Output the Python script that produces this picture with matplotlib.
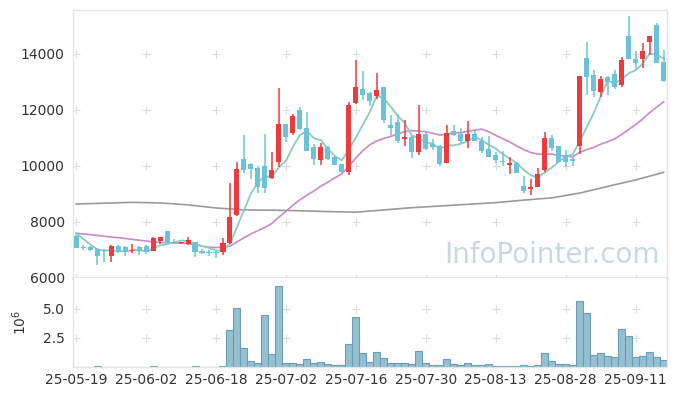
import numpy as np
import matplotlib.pyplot as plt

# daily candles, 25-05-19 .. 25-09-17 (trading days)
opens = [7500, 7110, 7120, 7050, 7000, 6790, 7140, 7090, 6950, 7100,
         7130, 6960, 7320, 7680, 7300, 7240, 7210, 7270, 6980, 6930,
         6930, 6910, 7240, 8250, 10250, 10070, 9940, 10000, 9580, 10150,
         11500, 11170, 12000, 11350, 10690, 10210, 10680, 10330, 10070, 9800,
         12240, 12750, 12620, 12480, 12830, 11460, 11580, 10950, 11050, 10510,
         11140, 10770, 10710, 10120, 11230, 11140, 10880, 11140, 10880, 10600,
         10390, 10190, 10040, 10120, 9290, 9180, 9260, 9860, 10990, 10710,
         10390, 10240, 10720, 13870, 13230, 12630, 13190, 13290, 12890, 14640,
         13820, 13810, 14440, 15030, 13700]
highs = [7520, 7160, 7150, 7080, 7040, 7190, 7170, 7140, 7210, 7130,
         7160, 7450, 7480, 7690, 7380, 7300, 7470, 7300, 7040, 7010,
         6960, 7420, 9380, 10150, 11100, 10100, 10000, 11140, 10480, 12770,
         11500, 11860, 12100, 11940, 10800, 10830, 10700, 10350, 10080, 12300,
         13790, 13390, 12640, 13310, 12830, 11820, 11840, 11640, 11060, 12180,
         11230, 10950, 10750, 11460, 11460, 11370, 11600, 11250, 11020, 11070,
         10500, 10540, 10320, 10130, 9640, 9540, 9920, 11220, 11100, 10710,
         10570, 10330, 13210, 14430, 13430, 13200, 13200, 13420, 13880, 15360,
         14100, 14380, 14650, 15120, 14140]
lows = [7060, 6990, 6960, 6460, 6580, 6580, 6880, 6800, 6900, 6830,
        6860, 6950, 7210, 7240, 7200, 7220, 7180, 6760, 6860, 6790,
        6700, 6830, 7200, 8200, 9750, 9530, 9050, 9050, 9550, 9950,
        10870, 11100, 11300, 10550, 10030, 10030, 10200, 10040, 9760, 9680,
        12200, 12370, 12140, 12380, 11520, 11100, 10820, 10700, 10280, 10390,
        10560, 10570, 9990, 10100, 11080, 10830, 10640, 10880, 10450, 10330,
        10090, 9990, 9720, 9760, 9020, 8980, 9260, 9790, 10540, 10150,
        9960, 10000, 10420, 12540, 12470, 12470, 12550, 12730, 12800, 13800,
        13450, 13490, 13960, 13670, 13000]
closes = [7080, 7070, 7000, 6790, 6950, 7140, 6920, 6940, 7000, 6980,
          6910, 7440, 7470, 7250, 7240, 7290, 7360, 6940, 6890, 6880,
          6880, 7240, 8190, 9890, 9870, 9890, 9260, 9230, 9860, 11500,
          11050, 11790, 11320, 10550, 10260, 10680, 10230, 10040, 9800, 12180,
          12800, 12540, 12320, 12710, 11640, 11350, 10900, 11050, 10510, 11140,
          10600, 10690, 10070, 11190, 11110, 10890, 11140, 10890, 10540, 10330,
          10210, 10130, 10100, 9760, 9120, 9250, 9710, 10990, 10630, 10150,
          10150, 10180, 13210, 13190, 12680, 13110, 12990, 12830, 13790, 13810,
          13670, 14110, 14650, 13670, 13040]
# volume in millions
volume = [0.02, 0.01, 0.01, 0.08, 0.01, 0.01, 0.01, 0.01, 0.01, 0.01,
          0.01, 0.08, 0.01, 0.01, 0.01, 0.01, 0.01, 0.08, 0.01, 0.01,
          0.01, 0.10, 3.19, 5.10, 1.61, 0.52, 0.32, 4.45, 1.09, 6.98,
          0.32, 0.32, 0.23, 0.66, 0.32, 0.43, 0.23, 0.17, 0.17, 1.98,
          4.28, 1.18, 0.43, 1.26, 0.75, 0.32, 0.32, 0.32, 0.23, 1.35,
          0.32, 0.14, 0.14, 0.66, 0.23, 0.14, 0.32, 0.14, 0.14, 0.23,
          0.06, 0.06, 0.06, 0.06, 0.14, 0.06, 0.14, 1.18, 0.49, 0.23,
          0.23, 0.14, 5.66, 4.62, 1.01, 1.18, 0.92, 0.83, 3.25, 2.70,
          0.83, 0.92, 1.26, 0.83, 0.60]

ma5 = [7590, 7400, 7200, 7020, 6978, 6990, 6960, 6948, 6990, 6996,
       6950, 7054, 7160, 7210, 7262, 7338, 7322, 7216, 7144, 7072,
       6990, 6966, 7216, 7816, 8414, 9016, 9420, 9628, 9622, 9948,
       10180, 10686, 11104, 11242, 10994, 10920, 10608, 10352, 10202, 10586,
       11010, 11472, 11928, 12510, 12402, 12112, 11784, 11530, 11090, 10990,
       10840, 10798, 10602, 10738, 10732, 10790, 10882, 11044, 10914, 10758,
       10622, 10420, 10262, 10106, 9864, 9672, 9588, 9766, 9940, 10146,
       10326, 10420, 10864, 11376, 11882, 12474, 13036, 12960, 13080, 13306,
       13418, 13642, 14008, 13982, 13828]
ma20 = [7600, 7570, 7550, 7520, 7490, 7460, 7440, 7410, 7380, 7350,
        7320, 7290, 7270, 7260, 7250, 7240, 7230, 7190, 7140, 7100,
        7090, 7100, 7135, 7290, 7436, 7574, 7691, 7805, 7948, 8174,
        8381, 8599, 8791, 8956, 9107, 9277, 9420, 9575, 9721, 9986,
        10282, 10547, 10753, 10894, 10983, 11056, 11138, 11229, 11261, 11243,
        11221, 11166, 11103, 11135, 11178, 11188, 11234, 11276, 11313, 11221,
        11091, 10971, 10860, 10712, 10586, 10481, 10422, 10419, 10425, 10375,
        10353, 10327, 10484, 10584, 10663, 10774, 10866, 10963, 11126, 11300,
        11473, 11672, 11899, 12095, 12291]
# long average, read every 4th session
ma_long_idx = [0, 4, 8, 12, 16, 20, 24, 28, 32, 36, 40, 44, 48, 52, 56, 60, 64, 68, 72, 76, 80, 84]
ma_long = [8640, 8670, 8700, 8680, 8610, 8500, 8430, 8420, 8400, 8370, 8350,
           8430, 8510, 8570, 8630, 8690, 8780, 8860, 9030, 9270, 9500, 9770]

tick_pos = [0, 10, 20, 30, 40, 50, 60, 70, 80]
tick_labels = ['25-05-19', '25-06-02', '25-06-18', '25-07-02', '25-07-16',
               '25-07-30', '25-08-13', '25-08-28', '25-09-11']

UP = '#ec3b3f'
DOWN = '#6cc3d8'
FRAME = '#e4e4e4'
TXT = '#333333'

o = np.array(opens)
c = np.array(closes)
x = np.arange(len(o))
up = c >= o
colors = np.where(up, UP, DOWN)

fig = plt.figure(figsize=(6.77, 3.96), dpi=100)
ax = fig.add_axes([0.1078, 0.298, 0.877, 0.677])
axv = fig.add_axes([0.1078, 0.0732, 0.877, 0.2248], sharex=ax)

# grid crosses
for yy in [6000, 8000, 10000, 12000, 14000]:
    ax.scatter(tick_pos, [yy] * len(tick_pos), marker='+', s=30, color='#dcdcdc', lw=0.8, zorder=0)
for yy in [2.5, 5.0]:
    axv.scatter(tick_pos, [yy] * len(tick_pos), marker='+', s=30, color='#dcdcdc', lw=0.8, zorder=0)

# moving averages
ax.plot(ma_long_idx, ma_long, color='#9a9a9a', lw=1.2, zorder=1)
ax.plot(x, ma20, color='#c98bc3', lw=1.2, zorder=1)
ax.plot(x, ma5, color='#8ccbc2', lw=1.3, zorder=1)

# candles
ax.vlines(x, lows, highs, colors=colors, lw=1.1, zorder=2)
body = np.maximum(np.abs(c - o), 40)
ax.bar(x, body, bottom=np.minimum(o, c), width=0.72, color=colors, lw=0, zorder=3)

ax.text(0.988, 0.086, 'InfoPointer.com', transform=ax.transAxes, ha='right', va='center',
        fontsize=20, color='#c9d9e1', zorder=4)

ax.set_xlim(-0.45, 84.45)
ax.set_ylim(6000, 15570)
ax.set_yticks([6000, 8000, 10000, 12000, 14000])
ax.tick_params(axis='y', length=0, pad=6, labelsize=10, labelcolor=TXT)
ax.tick_params(axis='x', length=0, labelbottom=False)

# volume
axv.bar(x, volume, width=1.0, color='#96bfd0', edgecolor='#6a9fb8', lw=0.8, zorder=2)
axv.set_ylim(0, 7.67)
axv.set_yticks([2.5, 5.0])
axv.set_yticklabels(['2.5', '5.0'])
axv.set_ylabel(r'$10^6$', fontsize=10, color=TXT, labelpad=10)
axv.set_xticks(tick_pos)
axv.set_xticklabels(tick_labels)
axv.tick_params(axis='both', length=0, labelsize=10, labelcolor=TXT)
axv.tick_params(axis='y', pad=6)
axv.tick_params(axis='x', pad=4)

for a in (ax, axv):
    for s in a.spines.values():
        s.set_color(FRAME)
        s.set_linewidth(1.0)
ax.spines['bottom'].set_linewidth(2.0)
axv.spines['top'].set_visible(False)

fig.savefig('out.png', dpi=100)
